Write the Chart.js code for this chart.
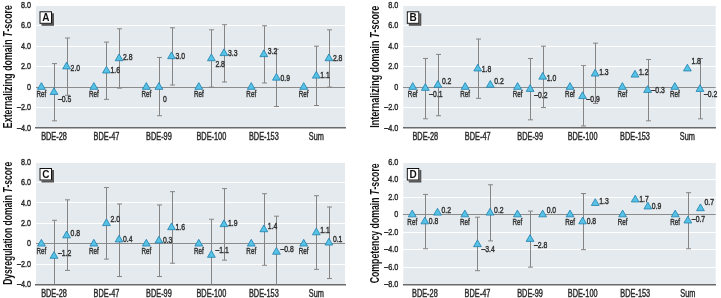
<!DOCTYPE html>
<html><head><meta charset="utf-8">
<script src="https://cdn.jsdelivr.net/npm/chart.js@4/dist/chart.umd.min.js"></script>
<style>
html,body{margin:0;padding:0;background:#fff;}
body{width:721px;height:298px;position:relative;overflow:hidden;}
canvas{position:absolute;display:block;}
</style></head><body>
<canvas id="cA" width="360" height="148" style="left:0;top:0"></canvas>
<canvas id="cB" width="361" height="148" style="left:360px;top:0"></canvas>
<canvas id="cC" width="360" height="150" style="left:0;top:148px"></canvas>
<canvas id="cD" width="361" height="150" style="left:360px;top:148px"></canvas>
<script>
// ---- categories ----
const categories = ['BDE-28','BDE-47','BDE-99','BDE-100','BDE-153','Sum'];
const refText = 'Ref';

// ---- Panel A: Externalizing ----
const extT2   = [-0.5, 1.6, 0.0, 2.8, 3.2, 1.1];
const extT2Lo = [-3.3, -1.2, -2.8, 0.0, 0.4, -1.8];
const extT2Hi = [2.3, 4.4, 2.9, 5.6, 6.0, 4.0];
const extT3   = [2.0, 2.8, 3.0, 3.3, 0.9, 2.8];
const extT3Lo = [-0.8, -0.1, 0.2, 0.5, -1.9, 0.0];
const extT3Hi = [4.8, 5.7, 5.8, 6.1, 3.7, 5.6];
const extT2Txt = ['\u20130.5','1.6','0','2.8','3.2','1.1'];
const extT3Txt = ['2.0','2.8','3.0','3.3','0.9','2.8'];

// ---- Panel B: Internalizing ----
const intT2   = [-0.1, 1.8, -0.2, -0.9, 1.2, 1.8];
const intT2Lo = [-3.1, -1.1, -3.2, -3.8, null, null];
const intT2Hi = [2.8, 4.7, 2.8, 2.1, null, null];
const intT3   = [0.2, 0.2, 1.0, 1.3, -0.3, -0.2];
const intT3Lo = [-2.8, null, -2.0, -1.6, -3.3, -3.1];
const intT3Hi = [3.2, null, 4.0, 4.3, 2.7, 2.8];
const intT2Txt = ['\u20130.1','1.8','\u20130.2','\u20130.9','1.2','1.8'];
const intT3Txt = ['0.2','0.2','1.0','1.3','\u20130.3','\u20130.2'];

// ---- Panel C: Dysregulation ----
const dysT2   = [-1.2, 2.0, 0.3, -1.1, 1.4, 1.1];
const dysT2Lo = [-4.7, -1.5, -3.2, -4.6, -2.1, -2.5];
const dysT2Hi = [2.3, 5.5, 3.8, 2.4, 4.9, 4.7];
const dysT3   = [0.8, 0.4, 1.6, 1.9, -0.8, 0.1];
const dysT3Lo = [-2.6, -3.2, -1.9, -1.6, -4.3, -3.4];
const dysT3Hi = [4.3, 3.9, 5.1, 5.4, 2.7, 3.6];
const dysT2Txt = ['\u20131.2','2.0','0.3','\u20131.1','1.4','1.1'];
const dysT3Txt = ['0.8','0.4','1.6','1.9','\u20130.8','0.1'];

// ---- Panel D: Competency ----
const comT2   = [-0.8, -3.4, -2.8, -0.8, 1.7, -0.7];
const comT2Lo = [-3.9, -6.4, -6.0, -4.0, null, -3.9];
const comT2Hi = [2.3, -0.3, 0.4, 2.4, null, 2.5];
const comT3   = [0.2, 0.2, 0.0, 1.3, 0.9, 0.7];
const comT3Lo = [null, -3.0, null, null, null, null];
const comT3Hi = [null, 3.4, null, null, null, null];
const comT2Txt = ['0.8','\u20133.4','\u20132.8','0.8','1.7','\u20130.7'];
const comT3Txt = ['0.2','0.2','0.0','1.3','0.9','0.7'];

// ---- y tick values ----
const ticksABC = [-4, -2, 0, 2, 4, 6, 8];
const ticksD   = [-8, -6, -4, -2, 0, 2, 4, 6];

// ---- label nudges (vertical, px) : layout only ----
const nudge = {
  A: {t2:[7,0,12,6,-3,0], t3:[2,-1,0,0,0,0]},
  B: {t2:[6,1,6,3,-2,-7], t3:[-4,-4,1,-1,0,5]},
  C: {t2:[-3,-4,0,-5,-3,-2], t3:[-2,0,0,-1,-3,-3]},
  D: {t2:[0,5,6,0,0,-1], t3:[-2,-2,-4,-2,0,-6]}
};

const FONT = "'Liberation Sans','Arial',sans-serif";
const OFF = 0.24;

const panels = [
  {id:'cA', letter:'A', title:'Externalizing domain ', yt:ticksABC,
   t2:extT2, t2Lo:extT2Lo, t2Hi:extT2Hi, t3:extT3, t3Lo:extT3Lo, t3Hi:extT3Hi, t2Txt:extT2Txt, t3Txt:extT3Txt, nd:nudge.A,
   lay:{yW:36, xH:20, top:5, right:15, xmin:-0.343, xmax:5.547, titleX:8.5, titleLen:123, xLblDy:9.5}},
  {id:'cB', letter:'B', title:'Internalizing domain ', yt:ticksABC,
   t2:intT2, t2Lo:intT2Lo, t2Hi:intT2Hi, t3:intT3, t3Lo:intT3Lo, t3Hi:intT3Hi, t2Txt:intT2Txt, t3Txt:intT3Txt, nd:nudge.B,
   lay:{yW:43.3, xH:20, top:5, right:0, xmin:-0.42, xmax:5.54, titleX:15.5, titleLen:122, xLblDy:9.5}},
  {id:'cC', letter:'C', title:'Dysregulation domain ', yt:ticksABC,
   t2:dysT2, t2Lo:dysT2Lo, t2Hi:dysT2Hi, t3:dysT3, t3Lo:dysT3Lo, t3Hi:dysT3Hi, t2Txt:dysT2Txt, t3Txt:dysT3Txt, nd:nudge.C,
   lay:{yW:36, xH:13.3, top:14, right:15, xmin:-0.343, xmax:5.547, titleX:8.5, titleLen:123, xLblDy:9}},
  {id:'cD', letter:'D', title:'Competency domain ', yt:ticksD,
   t2:comT2, t2Lo:comT2Lo, t2Hi:comT2Hi, t3:comT3, t3Lo:comT3Lo, t3Hi:comT3Hi, t2Txt:comT2Txt, t3Txt:comT3Txt, nd:nudge.D,
   lay:{yW:43.3, xH:13.3, top:14, right:0, xmin:-0.41, xmax:5.53, titleX:15.5, titleLen:120, xLblDy:9}}
];

const fillBlue = '#56c3e6', strokeBlue = '#1f7fae';

function fmtTick(v){
  if (v === 0) return '0';
  return (v < 0 ? '\u2013' : '') + Math.abs(v).toFixed(1);
}

// draw horizontally condensed, slightly emboldened text
function cText(ctx, txt, x, y, align, sx){
  ctx.save();
  ctx.translate(x, y);
  ctx.scale(sx, 1);
  ctx.textAlign = align;
  ctx.lineWidth = 0.45;
  ctx.strokeStyle = ctx.fillStyle;
  ctx.strokeText(txt, 0, 0);
  ctx.fillText(txt, 0, 0);
  ctx.restore();
}

function makeChart(p){
  const refPts = categories.map((c,i)=>({x:i-OFF, y:0}));
  const t2Pts = p.t2.map((v,i)=>({x:i, y:v}));
  const t3Pts = p.t3.map((v,i)=>({x:i+OFF, y:v}));
  const ymin = p.yt[0], ymax = p.yt[p.yt.length-1];

  const deco = {
    id:'deco'+p.letter,
    beforeDraw(chart){
      const {ctx, chartArea:a} = chart;
      ctx.save();
      ctx.fillStyle = '#e4eaed';
      ctx.fillRect(a.left, a.top, a.right-a.left, a.bottom-a.top);
      ctx.restore();
    },
    beforeDatasetsDraw(chart){
      const {ctx, chartArea:a, scales:{x, y}} = chart;
      ctx.save();
      ctx.beginPath(); ctx.rect(a.left, a.top, a.right-a.left, a.bottom-a.top); ctx.clip();
      ctx.strokeStyle = '#858585'; ctx.lineWidth = 1;
      const bars = [[p.t2Lo,p.t2Hi,0],[p.t3Lo,p.t3Hi,OFF]];
      bars.forEach(([lo,hi,o])=>{
        lo.forEach((l,i)=>{
          if (l === null || hi[i] === null) return;
          const px = Math.round(x.getPixelForValue(i+o)) + 0.5;
          const y1 = y.getPixelForValue(l), y2 = y.getPixelForValue(hi[i]);
          ctx.beginPath();
          ctx.moveTo(px, y1); ctx.lineTo(px, y2);
          ctx.moveTo(px-2.5, y1); ctx.lineTo(px+2.5, y1);
          ctx.moveTo(px-2.5, y2); ctx.lineTo(px+2.5, y2);
          ctx.stroke();
        });
      });
      ctx.restore();
    },
    afterDraw(chart){
      const {ctx, chartArea:a, scales:{x, y}} = chart;
      ctx.save();
      ctx.textBaseline = 'middle';
      // axis tick labels
      ctx.fillStyle = '#2e2e2e';
      ctx.font = '10.5px ' + FONT;
      categories.forEach((c,i)=>{
        cText(ctx, c, x.getPixelForValue(i), a.bottom + p.lay.xLblDy, 'center', 0.7);
      });
      ctx.font = '9.5px ' + FONT;
      p.yt.forEach(v=>{
        cText(ctx, fmtTick(v), a.left - 5, y.getPixelForValue(v), 'right', 0.76);
      });
      // value labels
      ctx.fillStyle = '#333';
      ctx.font = '9.5px ' + FONT;
      categories.forEach((c,i)=>{
        cText(ctx, refText, x.getPixelForValue(i-OFF), y.getPixelForValue(0)+7.5, 'center', 0.66);
      });
      p.t2.forEach((v,i)=>{
        cText(ctx, p.t2Txt[i], x.getPixelForValue(i)+4, y.getPixelForValue(v)+p.nd.t2[i], 'left', 0.72);
      });
      p.t3.forEach((v,i)=>{
        cText(ctx, p.t3Txt[i], x.getPixelForValue(i+OFF)+4, y.getPixelForValue(v)+p.nd.t3[i], 'left', 0.72);
      });
      // panel letter box
      const bx = a.left+3.5, by = a.top+6, bw = 12.5, bh = 12.5;
      ctx.fillStyle = '#555';
      ctx.fillRect(bx+2, by+2, bw, bh);
      ctx.fillStyle = '#fff';
      ctx.fillRect(bx, by, bw, bh);
      ctx.strokeStyle = '#111'; ctx.lineWidth = 1;
      ctx.strokeRect(bx+0.5, by+0.5, bw-1, bh-1);
      ctx.fillStyle = '#111';
      ctx.font = 'bold 10px ' + FONT;
      ctx.textAlign = 'center';
      ctx.fillText(p.letter, bx+bw/2, by+bh/2+0.5);
      // y title with italic T, condensed to the reference length
      const cy = (a.top + a.bottom)/2;
      ctx.translate(p.lay.titleX, cy);
      ctx.rotate(-Math.PI/2);
      const fB = 'bold 13px ' + FONT, fI = 'italic bold 13px ' + FONT;
      ctx.font = fB; const w1 = ctx.measureText(p.title).width;
      ctx.font = fI; const w2 = ctx.measureText('T').width;
      ctx.font = fB; const w3 = ctx.measureText('-score').width;
      const k = p.lay.titleLen / (w1+w2+w3);
      ctx.scale(k, 1);
      let sx = -(w1+w2+w3)/2;
      ctx.textAlign = 'left'; ctx.fillStyle = '#111';
      ctx.font = fB; ctx.fillText(p.title, sx, 0); sx += w1;
      ctx.font = fI; ctx.fillText('T', sx, 0); sx += w2;
      ctx.font = fB; ctx.fillText('-score', sx, 0);
      ctx.restore();
    }
  };

  const ptStyle = {pointStyle:'triangle', pointRadius:4.5, pointBackgroundColor:fillBlue,
                   pointBorderColor:strokeBlue, pointBorderWidth:0.8, showLine:false};

  return new Chart(document.getElementById(p.id), {
    type:'scatter',
    data:{datasets:[
      Object.assign({label:'Ref', data:refPts}, ptStyle),
      Object.assign({label:'T2', data:t2Pts}, ptStyle),
      Object.assign({label:'T3', data:t3Pts}, ptStyle)
    ]},
    options:{
      responsive:false, animation:false, devicePixelRatio:1,
      layout:{padding:{top:p.lay.top, right:p.lay.right, left:0, bottom:0}},
      plugins:{legend:{display:false}, tooltip:{enabled:false}},
      scales:{
        x:{type:'linear', min:p.lay.xmin, max:p.lay.xmax,
           afterBuildTicks(s){ s.ticks = categories.map((c,i)=>({value:i})); },
           afterFit(s){ s.height = p.lay.xH; },
           ticks:{display:false, autoSkip:false, maxRotation:0},
           grid:{display:false, drawTicks:false},
           border:{display:true, color:'#6a6a6a', width:1.5}},
        y:{min:ymin, max:ymax,
           afterBuildTicks(s){ s.ticks = p.yt.map(v=>({value:v})); },
           afterFit(s){ s.width = p.lay.yW; },
           ticks:{display:false},
           grid:{drawTicks:false, lineWidth:1,
                 color:(c)=> (c.tick && c.tick.value===0) ? '#8c8c8c' : '#ffffff'},
           border:{display:false}}
      }
    },
    plugins:[deco]
  });
}

panels.forEach(makeChart);
</script>
</body></html>
